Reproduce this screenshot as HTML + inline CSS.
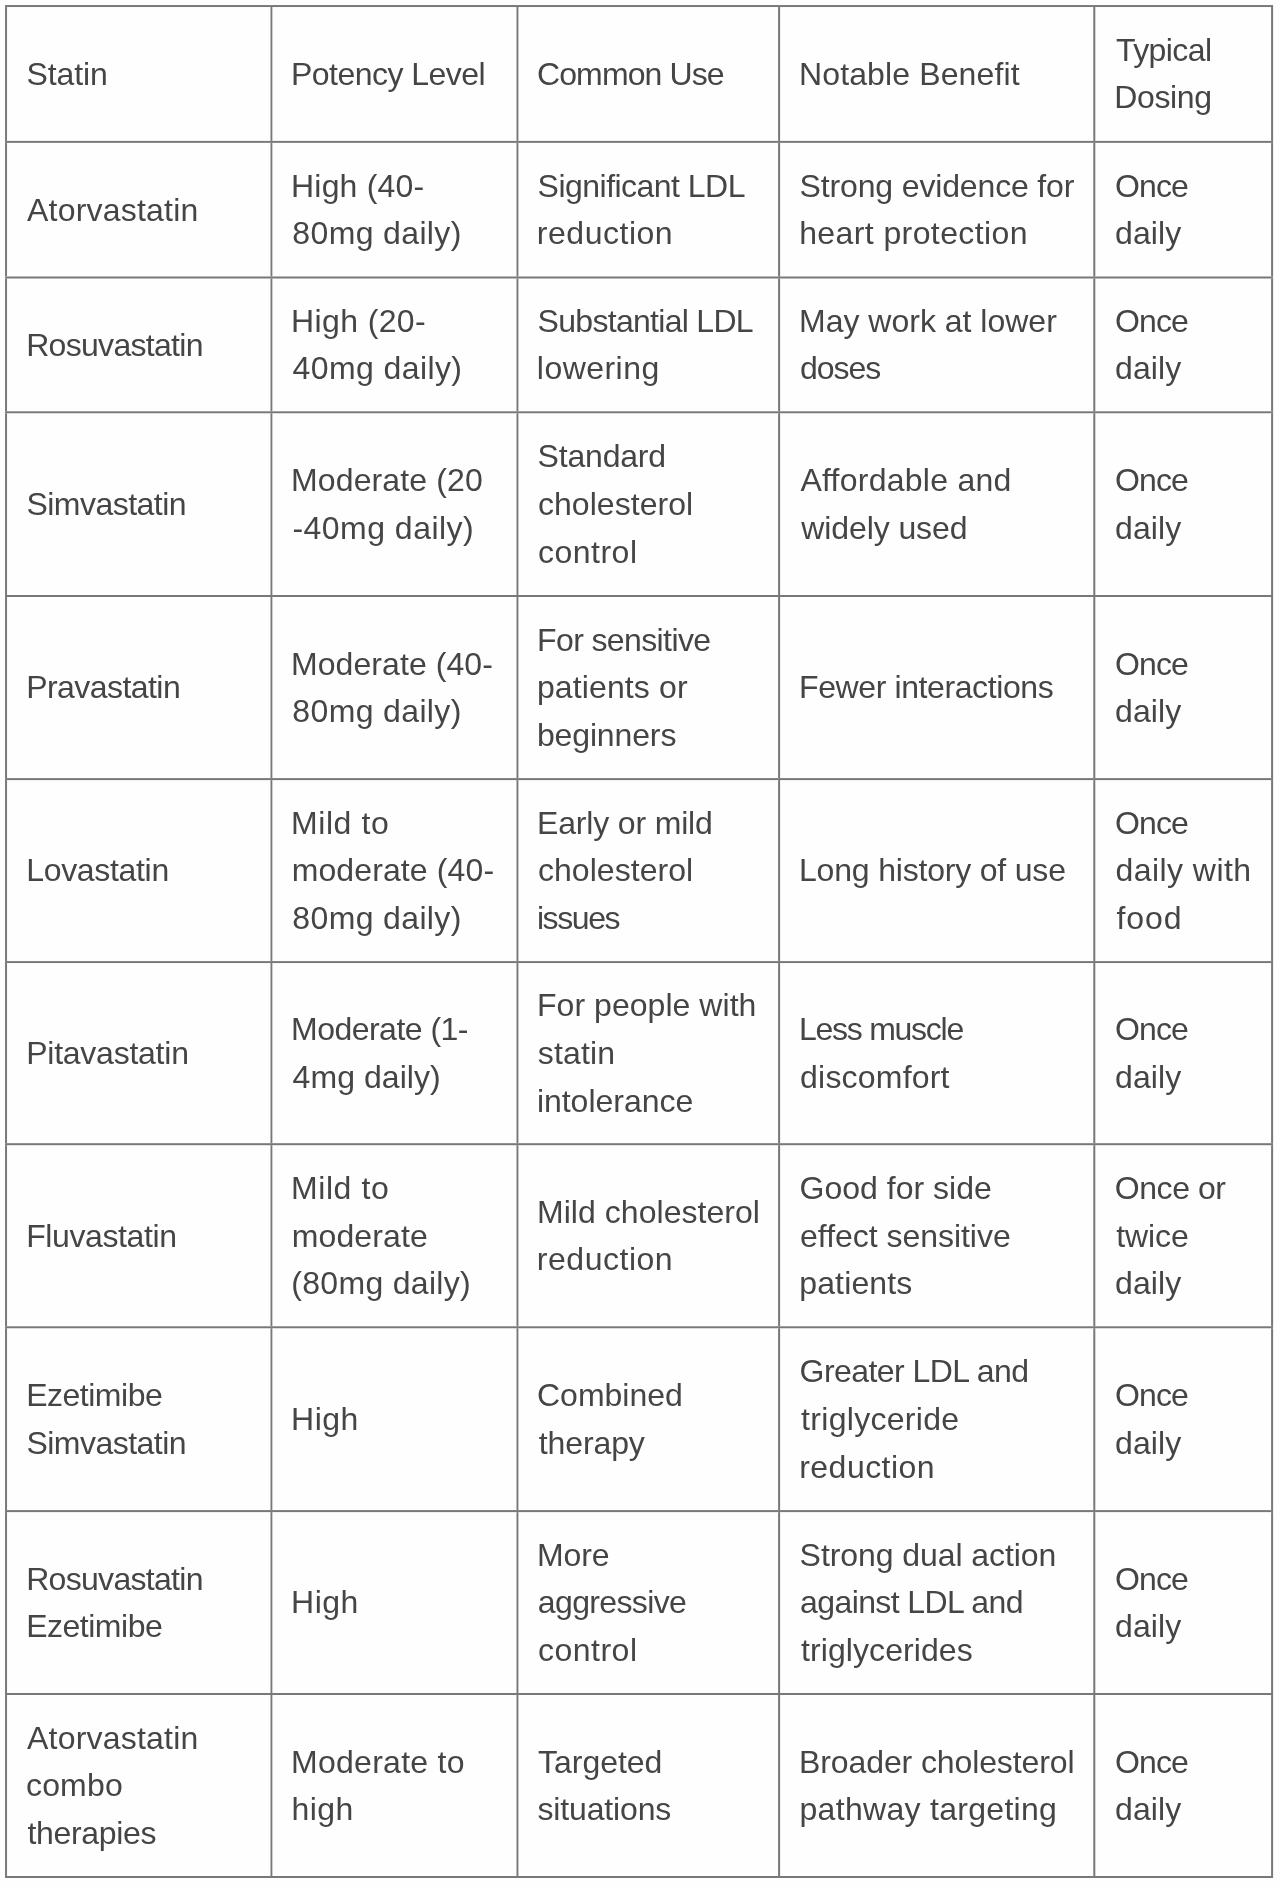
<!DOCTYPE html>
<html lang="en"><head><meta charset="utf-8"><title>Statin comparison table</title>
<style>
html,body{margin:0;padding:0;background:#fefefe;}
body{width:1280px;height:1886px;position:relative;overflow:hidden;font-family:"Liberation Sans",sans-serif;}
.h,.v{position:absolute;background:#787878;}
.t{position:absolute;white-space:nowrap;font-size:32px;line-height:48px;height:48px;color:#454545;}
#page{position:absolute;left:0;top:0;width:1280px;height:1886px;background:#fefefe;will-change:transform;}
</style></head><body><div id="page">
<svg width="1280" height="1886" viewBox="0 0 1280 1886" style="position:absolute;left:0;top:0" fill="#787878">
<rect x="5.06" y="5.06" width="1268.04" height="1.97"/>
<rect x="5.06" y="140.9" width="1268.04" height="1.95"/>
<rect x="5.06" y="276.5" width="1268.04" height="2"/>
<rect x="5.06" y="411.3" width="1268.04" height="1.95"/>
<rect x="5.06" y="595" width="1268.04" height="2"/>
<rect x="5.06" y="778.1" width="1268.04" height="2"/>
<rect x="5.06" y="961.1" width="1268.04" height="1.95"/>
<rect x="5.06" y="1143.2" width="1268.04" height="2"/>
<rect x="5.06" y="1326.3" width="1268.04" height="1.95"/>
<rect x="5.06" y="1510.1" width="1268.04" height="2"/>
<rect x="5.06" y="1693" width="1268.04" height="2"/>
<rect x="5.06" y="1876" width="1268.04" height="2"/>
<rect x="5.06" y="7.03" width="1.97" height="133.87"/>
<rect x="5.06" y="142.85" width="1.97" height="133.65"/>
<rect x="5.06" y="278.5" width="1.97" height="132.8"/>
<rect x="5.06" y="413.25" width="1.97" height="181.75"/>
<rect x="5.06" y="597" width="1.97" height="181.1"/>
<rect x="5.06" y="780.1" width="1.97" height="181"/>
<rect x="5.06" y="963.05" width="1.97" height="180.15"/>
<rect x="5.06" y="1145.2" width="1.97" height="181.1"/>
<rect x="5.06" y="1328.25" width="1.97" height="181.85"/>
<rect x="5.06" y="1512.1" width="1.97" height="180.9"/>
<rect x="5.06" y="1695" width="1.97" height="181"/>
<rect x="270.5" y="7.03" width="1.85" height="133.87"/>
<rect x="270.5" y="142.85" width="1.85" height="133.65"/>
<rect x="270.5" y="278.5" width="1.85" height="132.8"/>
<rect x="270.5" y="413.25" width="1.85" height="181.75"/>
<rect x="270.5" y="597" width="1.85" height="181.1"/>
<rect x="270.5" y="780.1" width="1.85" height="181"/>
<rect x="270.5" y="963.05" width="1.85" height="180.15"/>
<rect x="270.5" y="1145.2" width="1.85" height="181.1"/>
<rect x="270.5" y="1328.25" width="1.85" height="181.85"/>
<rect x="270.5" y="1512.1" width="1.85" height="180.9"/>
<rect x="270.5" y="1695" width="1.85" height="181"/>
<rect x="516.5" y="7.03" width="1.9" height="133.87"/>
<rect x="516.5" y="142.85" width="1.9" height="133.65"/>
<rect x="516.5" y="278.5" width="1.9" height="132.8"/>
<rect x="516.5" y="413.25" width="1.9" height="181.75"/>
<rect x="516.5" y="597" width="1.9" height="181.1"/>
<rect x="516.5" y="780.1" width="1.9" height="181"/>
<rect x="516.5" y="963.05" width="1.9" height="180.15"/>
<rect x="516.5" y="1145.2" width="1.9" height="181.1"/>
<rect x="516.5" y="1328.25" width="1.9" height="181.85"/>
<rect x="516.5" y="1512.1" width="1.9" height="180.9"/>
<rect x="516.5" y="1695" width="1.9" height="181"/>
<rect x="778.1" y="7.03" width="2" height="133.87"/>
<rect x="778.1" y="142.85" width="2" height="133.65"/>
<rect x="778.1" y="278.5" width="2" height="132.8"/>
<rect x="778.1" y="413.25" width="2" height="181.75"/>
<rect x="778.1" y="597" width="2" height="181.1"/>
<rect x="778.1" y="780.1" width="2" height="181"/>
<rect x="778.1" y="963.05" width="2" height="180.15"/>
<rect x="778.1" y="1145.2" width="2" height="181.1"/>
<rect x="778.1" y="1328.25" width="2" height="181.85"/>
<rect x="778.1" y="1512.1" width="2" height="180.9"/>
<rect x="778.1" y="1695" width="2" height="181"/>
<rect x="1093.3" y="7.03" width="2" height="133.87"/>
<rect x="1093.3" y="142.85" width="2" height="133.65"/>
<rect x="1093.3" y="278.5" width="2" height="132.8"/>
<rect x="1093.3" y="413.25" width="2" height="181.75"/>
<rect x="1093.3" y="597" width="2" height="181.1"/>
<rect x="1093.3" y="780.1" width="2" height="181"/>
<rect x="1093.3" y="963.05" width="2" height="180.15"/>
<rect x="1093.3" y="1145.2" width="2" height="181.1"/>
<rect x="1093.3" y="1328.25" width="2" height="181.85"/>
<rect x="1093.3" y="1512.1" width="2" height="180.9"/>
<rect x="1093.3" y="1695" width="2" height="181"/>
<rect x="1271.1" y="7.03" width="2" height="133.87"/>
<rect x="1271.1" y="142.85" width="2" height="133.65"/>
<rect x="1271.1" y="278.5" width="2" height="132.8"/>
<rect x="1271.1" y="413.25" width="2" height="181.75"/>
<rect x="1271.1" y="597" width="2" height="181.1"/>
<rect x="1271.1" y="780.1" width="2" height="181"/>
<rect x="1271.1" y="963.05" width="2" height="180.15"/>
<rect x="1271.1" y="1145.2" width="2" height="181.1"/>
<rect x="1271.1" y="1328.25" width="2" height="181.85"/>
<rect x="1271.1" y="1512.1" width="2" height="180.9"/>
<rect x="1271.1" y="1695" width="2" height="181"/>
</svg>
<div class="t" style="left:26.40px;top:50.00px;letter-spacing:-0.084px">Statin</div>
<div class="t" style="left:291.02px;top:50.00px;letter-spacing:-0.532px">Potency Level</div>
<div class="t" style="left:536.98px;top:50.00px;letter-spacing:-0.882px">Common Use</div>
<div class="t" style="left:799.02px;top:50.00px;letter-spacing:0.123px">Notable Benefit</div>
<div class="t" style="left:1115.93px;top:26.00px;letter-spacing:-0.572px">Typical</div>
<div class="t" style="left:1114.22px;top:73.00px;letter-spacing:-0.344px">Dosing</div>
<div class="t" style="left:27.04px;top:186.00px;letter-spacing:0.206px">Atorvastatin</div>
<div class="t" style="left:291.02px;top:162.00px;letter-spacing:0.197px">High (40-</div>
<div class="t" style="left:292.36px;top:209.00px;letter-spacing:0.357px">80mg daily)</div>
<div class="t" style="left:537.60px;top:162.00px;letter-spacing:-0.525px">Significant LDL</div>
<div class="t" style="left:536.87px;top:209.00px;letter-spacing:0.514px">reduction</div>
<div class="t" style="left:799.61px;top:162.00px;letter-spacing:-0.150px">Strong evidence for</div>
<div class="t" style="left:799.13px;top:209.00px;letter-spacing:0.407px">heart protection</div>
<div class="t" style="left:1114.99px;top:162.00px;letter-spacing:-0.897px">Once</div>
<div class="t" style="left:1115.03px;top:209.00px;letter-spacing:0.080px">daily</div>
<div class="t" style="left:26.19px;top:321.00px;letter-spacing:-0.698px">Rosuvastatin</div>
<div class="t" style="left:291.02px;top:297.00px;letter-spacing:0.385px">High (20-</div>
<div class="t" style="left:292.60px;top:344.00px;letter-spacing:0.396px">40mg daily)</div>
<div class="t" style="left:537.60px;top:297.00px;letter-spacing:-0.707px">Substantial LDL</div>
<div class="t" style="left:536.86px;top:344.00px;letter-spacing:0.451px">lowering</div>
<div class="t" style="left:799.02px;top:297.00px;letter-spacing:-0.004px">May work at lower</div>
<div class="t" style="left:800.10px;top:344.00px;letter-spacing:-1.060px">doses</div>
<div class="t" style="left:1114.99px;top:297.00px;letter-spacing:-0.897px">Once</div>
<div class="t" style="left:1115.03px;top:344.00px;letter-spacing:0.080px">daily</div>
<div class="t" style="left:26.40px;top:480.00px;letter-spacing:-0.523px">Simvastatin</div>
<div class="t" style="left:291.02px;top:456.00px;letter-spacing:0.128px">Moderate (20</div>
<div class="t" style="left:292.38px;top:504.00px;letter-spacing:0.484px">-40mg daily)</div>
<div class="t" style="left:537.60px;top:432.00px;letter-spacing:-0.193px">Standard</div>
<div class="t" style="left:537.88px;top:480.00px;letter-spacing:0.059px">cholesterol</div>
<div class="t" style="left:537.88px;top:528.00px;letter-spacing:0.518px">control</div>
<div class="t" style="left:800.43px;top:456.00px;letter-spacing:0.252px">Affordable and</div>
<div class="t" style="left:801.27px;top:504.00px;letter-spacing:-0.100px">widely used</div>
<div class="t" style="left:1114.99px;top:456.00px;letter-spacing:-0.897px">Once</div>
<div class="t" style="left:1115.03px;top:504.00px;letter-spacing:0.080px">daily</div>
<div class="t" style="left:26.19px;top:663.00px;letter-spacing:-0.559px">Pravastatin</div>
<div class="t" style="left:291.02px;top:640.00px;letter-spacing:0.073px">Moderate (40-</div>
<div class="t" style="left:292.36px;top:687.00px;letter-spacing:0.357px">80mg daily)</div>
<div class="t" style="left:537.02px;top:616.00px;letter-spacing:-0.610px">For sensitive</div>
<div class="t" style="left:536.92px;top:663.00px;letter-spacing:0.125px">patients or</div>
<div class="t" style="left:536.92px;top:711.00px;letter-spacing:-0.133px">beginners</div>
<div class="t" style="left:799.02px;top:663.00px;letter-spacing:-0.395px">Fewer interactions</div>
<div class="t" style="left:1114.99px;top:640.00px;letter-spacing:-0.897px">Once</div>
<div class="t" style="left:1115.03px;top:687.00px;letter-spacing:0.080px">daily</div>
<div class="t" style="left:26.19px;top:846.00px;letter-spacing:-0.317px">Lovastatin</div>
<div class="t" style="left:291.02px;top:799.00px;letter-spacing:0.570px">Mild to</div>
<div class="t" style="left:291.66px;top:846.00px;letter-spacing:0.117px">moderate (40-</div>
<div class="t" style="left:292.36px;top:894.00px;letter-spacing:0.357px">80mg daily)</div>
<div class="t" style="left:537.02px;top:799.00px;letter-spacing:-0.164px">Early or mild</div>
<div class="t" style="left:537.88px;top:846.00px;letter-spacing:0.059px">cholesterol</div>
<div class="t" style="left:536.88px;top:894.00px;letter-spacing:-1.400px">issues</div>
<div class="t" style="left:799.02px;top:846.00px;letter-spacing:-0.191px">Long history of use</div>
<div class="t" style="left:1114.99px;top:799.00px;letter-spacing:-0.897px">Once</div>
<div class="t" style="left:1115.49px;top:846.00px;letter-spacing:0.446px">daily with</div>
<div class="t" style="left:1116.41px;top:894.00px;letter-spacing:0.950px">food</div>
<div class="t" style="left:26.19px;top:1029.00px;letter-spacing:-0.244px">Pitavastatin</div>
<div class="t" style="left:291.02px;top:1005.00px;letter-spacing:-0.520px">Moderate (1-</div>
<div class="t" style="left:292.60px;top:1053.00px;letter-spacing:0.057px">4mg daily)</div>
<div class="t" style="left:537.02px;top:981.00px;letter-spacing:0.042px">For people with</div>
<div class="t" style="left:537.77px;top:1029.00px;letter-spacing:0.180px">statin</div>
<div class="t" style="left:536.88px;top:1077.00px;letter-spacing:-0.018px">intolerance</div>
<div class="t" style="left:799.02px;top:1005.00px;letter-spacing:-1.268px">Less muscle</div>
<div class="t" style="left:800.10px;top:1053.00px;letter-spacing:0.203px">discomfort</div>
<div class="t" style="left:1114.99px;top:1005.00px;letter-spacing:-0.897px">Once</div>
<div class="t" style="left:1115.03px;top:1053.00px;letter-spacing:0.080px">daily</div>
<div class="t" style="left:26.19px;top:1212.00px;letter-spacing:-0.399px">Fluvastatin</div>
<div class="t" style="left:291.02px;top:1164.00px;letter-spacing:0.570px">Mild to</div>
<div class="t" style="left:291.66px;top:1212.00px;letter-spacing:0.146px">moderate</div>
<div class="t" style="left:291.30px;top:1259.00px;letter-spacing:0.309px">(80mg daily)</div>
<div class="t" style="left:537.02px;top:1188.00px;letter-spacing:0.040px">Mild cholesterol</div>
<div class="t" style="left:536.87px;top:1235.00px;letter-spacing:0.514px">reduction</div>
<div class="t" style="left:799.58px;top:1164.00px;letter-spacing:0.013px">Good for side</div>
<div class="t" style="left:800.10px;top:1212.00px;letter-spacing:-0.031px">effect sensitive</div>
<div class="t" style="left:799.27px;top:1259.00px;letter-spacing:0.130px">patients</div>
<div class="t" style="left:1114.82px;top:1164.00px;letter-spacing:-0.443px">Once or</div>
<div class="t" style="left:1116.20px;top:1212.00px;letter-spacing:-0.065px">twice</div>
<div class="t" style="left:1115.03px;top:1259.00px;letter-spacing:0.080px">daily</div>
<div class="t" style="left:26.19px;top:1371.00px;letter-spacing:-0.494px">Ezetimibe</div>
<div class="t" style="left:26.40px;top:1419.00px;letter-spacing:-0.523px">Simvastatin</div>
<div class="t" style="left:291.02px;top:1395.00px;letter-spacing:0.520px">High</div>
<div class="t" style="left:536.98px;top:1371.00px;letter-spacing:0.003px">Combined</div>
<div class="t" style="left:538.80px;top:1419.00px;letter-spacing:-0.117px">therapy</div>
<div class="t" style="left:799.58px;top:1347.00px;letter-spacing:-0.549px">Greater LDL and</div>
<div class="t" style="left:801.10px;top:1395.00px;letter-spacing:0.295px">triglyceride</div>
<div class="t" style="left:799.21px;top:1443.00px;letter-spacing:0.475px">reduction</div>
<div class="t" style="left:1114.99px;top:1371.00px;letter-spacing:-0.897px">Once</div>
<div class="t" style="left:1115.03px;top:1419.00px;letter-spacing:0.080px">daily</div>
<div class="t" style="left:26.19px;top:1555.00px;letter-spacing:-0.698px">Rosuvastatin</div>
<div class="t" style="left:26.19px;top:1602.00px;letter-spacing:-0.494px">Ezetimibe</div>
<div class="t" style="left:291.02px;top:1578.00px;letter-spacing:0.520px">High</div>
<div class="t" style="left:537.02px;top:1531.00px;letter-spacing:-0.093px">More</div>
<div class="t" style="left:537.85px;top:1578.00px;letter-spacing:-0.639px">aggressive</div>
<div class="t" style="left:537.88px;top:1626.00px;letter-spacing:0.518px">control</div>
<div class="t" style="left:799.61px;top:1531.00px;letter-spacing:-0.072px">Strong dual action</div>
<div class="t" style="left:800.10px;top:1578.00px;letter-spacing:-0.606px">against LDL and</div>
<div class="t" style="left:801.10px;top:1626.00px;letter-spacing:0.072px">triglycerides</div>
<div class="t" style="left:1114.99px;top:1555.00px;letter-spacing:-0.897px">Once</div>
<div class="t" style="left:1115.03px;top:1602.00px;letter-spacing:0.080px">daily</div>
<div class="t" style="left:27.04px;top:1714.00px;letter-spacing:0.206px">Atorvastatin</div>
<div class="t" style="left:26.02px;top:1761.00px;letter-spacing:0.155px">combo</div>
<div class="t" style="left:27.46px;top:1809.00px;letter-spacing:-0.335px">therapies</div>
<div class="t" style="left:291.02px;top:1738.00px;letter-spacing:0.270px">Moderate to</div>
<div class="t" style="left:291.60px;top:1785.00px;letter-spacing:0.430px">high</div>
<div class="t" style="left:538.00px;top:1738.00px;letter-spacing:-0.020px">Targeted</div>
<div class="t" style="left:537.47px;top:1785.00px;letter-spacing:-0.150px">situations</div>
<div class="t" style="left:799.02px;top:1738.00px;letter-spacing:-0.106px">Broader cholesterol</div>
<div class="t" style="left:799.52px;top:1785.00px;letter-spacing:0.298px">pathway targeting</div>
<div class="t" style="left:1114.99px;top:1738.00px;letter-spacing:-0.897px">Once</div>
<div class="t" style="left:1115.03px;top:1785.00px;letter-spacing:0.080px">daily</div>
</div></body></html>
